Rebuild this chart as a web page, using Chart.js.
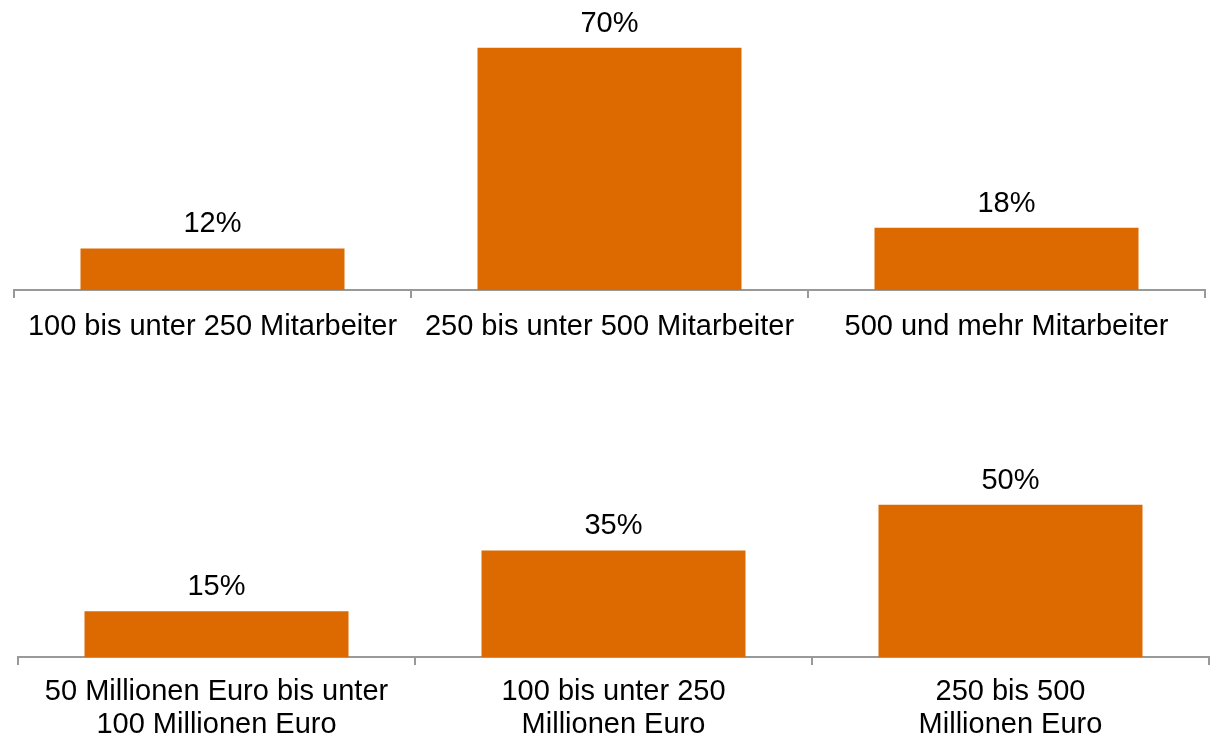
<!DOCTYPE html>
<html><head><meta charset="utf-8">
<script src="https://cdn.jsdelivr.net/npm/chart.js@4"></script>
<style>
html,body{margin:0;padding:0;background:#fff;width:1214px;height:738px;overflow:hidden;}
#w1{position:absolute;left:0;top:0;width:1214px;height:360px;}
#w2{position:absolute;left:0;top:370px;width:1214px;height:368px;}
</style></head>
<body>
<div id="w1"><canvas id="c1"></canvas></div>
<div id="w2"><canvas id="c2"></canvas></div>
<script>
const employeeCategories = ["100 bis unter 250 Mitarbeiter", "250 bis unter 500 Mitarbeiter", "500 und mehr Mitarbeiter"];
const employeeValues = [12, 70, 18];
const revenueCategories = [["50 Millionen Euro bis unter", "100 Millionen Euro"], ["100 bis unter 250", "Millionen Euro"], ["250 bis 500", "Millionen Euro"]];
const revenueValues = [15, 35, 50];

const BAR = '#DD6A00';
const FONT = 'Liberation Sans, Arial, sans-serif';
const FSIZE = 29;

const valueLabels = {
  id: 'valueLabels',
  afterDatasetsDraw(chart) {
    const ctx = chart.ctx;
    const meta = chart.getDatasetMeta(0);
    ctx.save();
    ctx.font = FSIZE + 'px ' + FONT;
    ctx.fillStyle = '#000';
    ctx.textAlign = 'center';
    ctx.textBaseline = 'alphabetic';
    meta.data.forEach((el, i) => {
      ctx.fillText(chart.data.datasets[0].data[i] + '%', el.x, el.y - 16);
    });
    ctx.restore();
  }
};

function makeChart(id, labels, values, ymax, pad, axisH, tickPad) {
  return new Chart(document.getElementById(id), {
    type: 'bar',
    data: { labels: labels, datasets: [{ data: values, backgroundColor: BAR, borderWidth: 0, categoryPercentage: 1, barPercentage: 0.665 }] },
    options: {
      responsive: true, maintainAspectRatio: false, animation: false,
      layout: { padding: pad },
      plugins: { legend: { display: false }, tooltip: { enabled: false } },
      scales: {
        x: {
          grid: { offset: true, drawOnChartArea: false, drawTicks: true, tickLength: 8, color: '#999', lineWidth: 2 },
          border: { display: true, color: '#999', width: 2 },
          ticks: { color: '#000', font: { family: FONT, size: FSIZE, lineHeight: 1.12 }, padding: tickPad, maxRotation: 0, autoSkip: false },
          afterFit(s) { s.height = axisH; }
        },
        y: { display: false, min: 0, max: ymax }
      }
    },
    plugins: [valueLabels]
  });
}

makeChart('c1', employeeCategories, employeeValues, 80, { left: 14, right: 9, top: 13, bottom: 0 }, 70, 13);
makeChart('c2', revenueCategories, revenueValues, 90, { left: 18, right: 5, top: 13, bottom: 0 }, 81, 11);
</script>
</body></html>
